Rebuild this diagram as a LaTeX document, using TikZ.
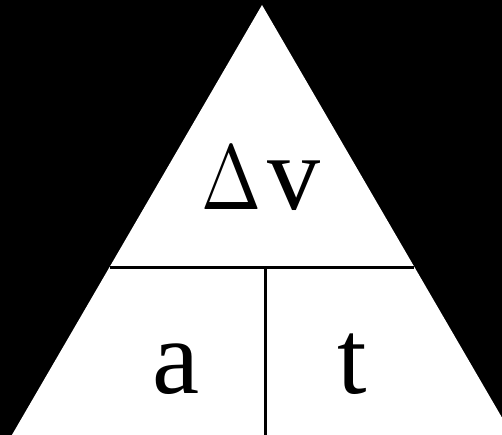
\documentclass[tikz,border=0pt]{standalone}
\usepackage{fontspec}
\setmainfont{Liberation Serif}
\usetikzlibrary{positioning,calc}

\begin{document}
\begin{tikzpicture}[x=1pt, y=-1pt, line width=3pt,
    bigtext/.style={anchor=base, inner sep=0pt, font=\fontsize{106}{110}\selectfont}]
    % Frame and black backdrop
    \clip (0,0) rectangle (502,435);
    \fill[black] (0,0) rectangle (502,435);

    % Triangle corners
    \coordinate (apex) at (262,5);
    \coordinate (baseL) at (9,440);
    \coordinate (baseR) at (515,440);
    \fill[white] (apex) -- (baseL) -- (baseR) -- cycle;

    % Dividers
    \coordinate (midL) at (110,267);
    \coordinate (midR) at (414,267);
    \coordinate (split) at (265,267);
    \coordinate (foot) at (265,440);
    \draw (midL) -- (midR);
    \draw (split) -- (foot);

    % Labels
    \node[anchor=base, inner sep=0pt] (delta) at (231,210) {\scalebox{7.2}[9.2]{$\Delta$}};
    \node[bigtext] (vel) at (294,210) {v};
    \node[bigtext] (acc) at (176,393) {a};
    \node[bigtext] (time) at (352,393) {t};
\end{tikzpicture}
\end{document}
